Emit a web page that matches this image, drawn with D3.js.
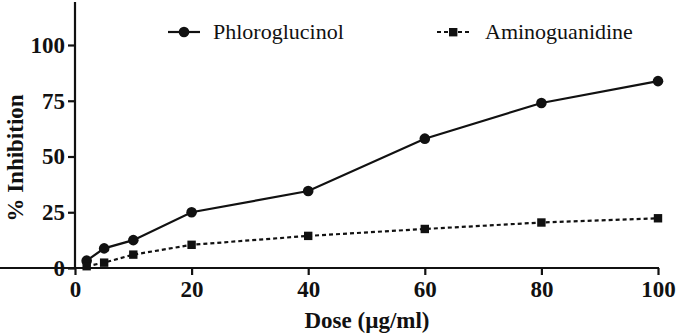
<!DOCTYPE html>
<html>
<head>
<meta charset="utf-8">
<script src="https://cdn.jsdelivr.net/npm/d3@7"></script>
</head>
<body style="margin:0;background:#fff">
<svg id="c" width="677" height="333" style="display:block" font-family="Times New Roman, Liberation Serif, serif"></svg>
<script>
const doses = [2, 5, 10, 20, 40, 60, 80, 100];
const phloroglucinol = [3.3, 8.8, 12.5, 25, 34.5, 58, 74, 83.8];
const aminoguanidine = [0.8, 2.4, 6.0, 10.4, 14.4, 17.5, 20.4, 22.3];
const xTicks = [0, 20, 40, 60, 80, 100];
const yTicks = [0, 25, 50, 75, 100];
const seriesNames = ["Phloroglucinol", "Aminoguanidine"];
const FONT = '"Times New Roman", "Liberation Serif", serif';

const svg = d3.select("#c");
const x = d3.scaleLinear().domain([0, 100]).range([75, 658]);
const y = d3.scaleLinear().domain([0, 100]).range([268, 45]);

const xAxis = svg.append("g").attr("transform", "translate(0,268)")
  .call(d3.axisBottom(x).tickValues(xTicks).tickSize(7).tickSizeOuter(0).tickPadding(5));
const yAxis = svg.append("g").attr("transform", "translate(75,0)")
  .call(d3.axisLeft(y).tickValues(yTicks).tickSize(7).tickSizeOuter(0).tickPadding(3));
yAxis.select(".domain").attr("d", `M0,${y(0)+1}V2`);
xAxis.select(".domain").attr("d", `M-1,0H${x(100)+1}`);
[xAxis, yAxis].forEach(g => {
  g.attr("font-family", FONT).attr("font-size", 23).attr("font-weight", "bold");
  g.selectAll(".domain, .tick line").attr("stroke", "#111").attr("stroke-width", 2.2);
  g.selectAll("text").attr("fill", "#111").attr("font-family", FONT).attr("font-weight", "bold").attr("font-size", 23);
});
xAxis.selectAll("text").attr("dy", "0.72em");

svg.append("text").attr("x", 367).attr("y", 328).attr("text-anchor", "middle")
  .attr("font-family", FONT).attr("font-weight", "bold").attr("font-size", 23).attr("fill", "#111").text("Dose (µg/ml)");
svg.append("text").attr("transform", "translate(23,158) rotate(-90)").attr("text-anchor", "middle")
  .attr("font-family", FONT).attr("font-weight", "bold").attr("font-size", 23).attr("fill", "#111").text("% Inhibition");

const line = d3.line().x(d => x(d[0])).y(d => y(d[1]));
const p1 = doses.map((d, i) => [d, phloroglucinol[i]]);
const p2 = doses.map((d, i) => [d, aminoguanidine[i]]);
svg.append("path").datum(p1).attr("d", line).attr("fill", "none").attr("stroke", "#111").attr("stroke-width", 2.2);
svg.append("path").datum(p2).attr("d", line).attr("fill", "none").attr("stroke", "#111").attr("stroke-width", 2.2)
  .attr("stroke-dasharray", "4,3");
svg.selectAll(".c1").data(p1).enter().append("circle")
  .attr("cx", d => x(d[0])).attr("cy", d => y(d[1])).attr("r", 5.3).attr("fill", "#111");
svg.selectAll(".s1").data(p2).enter().append("rect")
  .attr("x", d => x(d[0]) - 4.2).attr("y", d => y(d[1]) - 4.2).attr("width", 8.4).attr("height", 8.4).attr("fill", "#111");

const lg = svg.append("g");
lg.append("line").attr("x1", 168).attr("x2", 200).attr("y1", 32).attr("y2", 32).attr("stroke", "#111").attr("stroke-width", 2.2);
lg.append("circle").attr("cx", 184).attr("cy", 32).attr("r", 5.3).attr("fill", "#111");
lg.append("text").attr("x", 213).attr("y", 39).attr("font-family", FONT).attr("font-size", 22).attr("fill", "#111").text(seriesNames[0]);
lg.append("line").attr("x1", 437).attr("x2", 470).attr("y1", 32).attr("y2", 32).attr("stroke", "#111").attr("stroke-width", 2.2).attr("stroke-dasharray", "4,3");
lg.append("rect").attr("x", 449).attr("y", 28).attr("width", 8.4).attr("height", 8.4).attr("fill", "#111");
lg.append("text").attr("x", 485).attr("y", 39).attr("font-family", FONT).attr("font-size", 22).attr("fill", "#111").text(seriesNames[1]);
</script>
</body>
</html>
